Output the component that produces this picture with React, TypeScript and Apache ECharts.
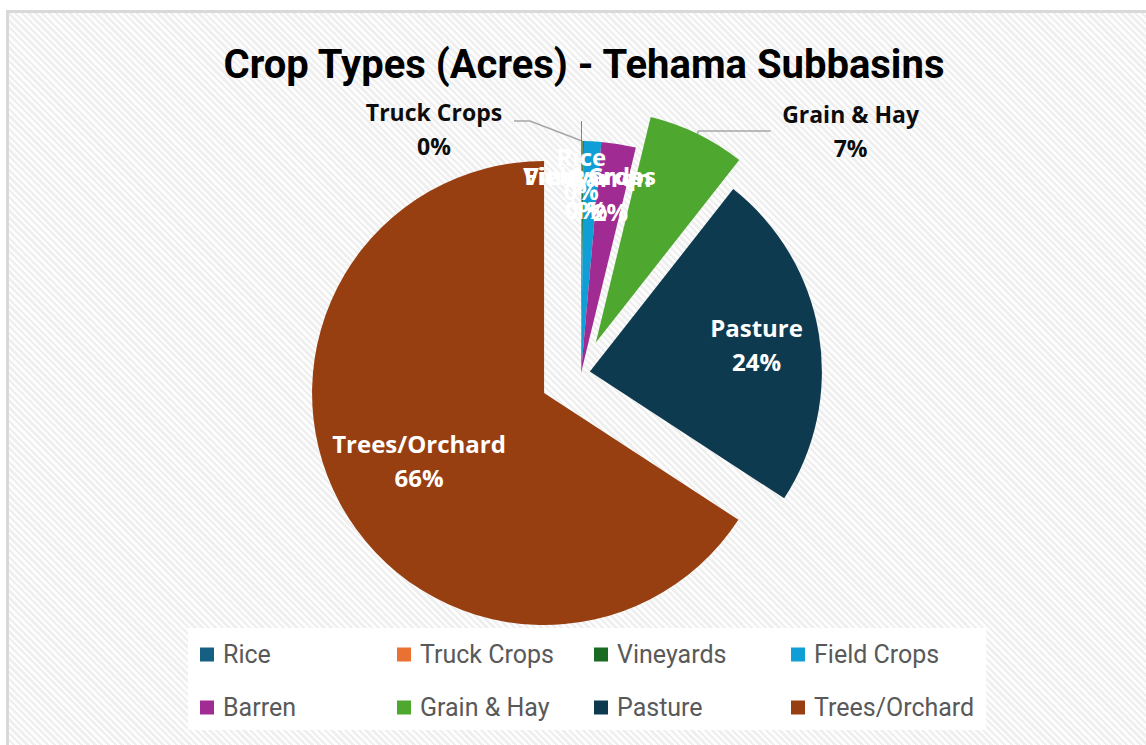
import React, { useEffect, useRef } from 'react';
import * as echarts from 'echarts';

const chartTitle = 'Crop Types (Acres) - Tehama Subbasins';
const categories = ['Rice', 'Truck Crops', 'Vineyards', 'Field Crops', 'Barren', 'Grain & Hay', 'Pasture', 'Trees/Orchard'];
const shares = [0.05, 0.05, 0.1, 1.2, 2.4, 6.8, 23.6, 65.8];
const sliceColors = ['#156082', '#E97132', '#196B24', '#0F9ED5', '#A02B93', '#4EA72E', '#0E3A4F', '#983F12'];
const explodeOffsets = [20, 0, 0, 0, 0, 34, 9, 42];
const labelModes = ['inside', 'outside', 'inside', 'inside', 'inside', 'outside', 'inside', 'inside'];
const labelRadiusFractions = [0.76, 0, 0.765, 0.765, 0.765, 0, 0.715, 0.6];

const PIE_CENTER = [581, 373];
const PIE_RADIUS = 232;
const LABEL_FONT = "'Open Sans', 'Noto Sans', sans-serif";
const LEGEND_FONT = "Roboto, 'Noto Sans', sans-serif";
const TITLE_FONT = "Roboto, sans-serif";
const CLEAR = 'rgba(0,0,0,0)';

function buildSeries() {
  const series: any[] = [];
  const offsets = Array.from(new Set(explodeOffsets));
  offsets.forEach((off) => {
    series.push({
      type: 'pie',
      name: 'slices-' + off,
      center: PIE_CENTER,
      radius: [0, PIE_RADIUS],
      startAngle: 90,
      clockwise: true,
      selectedMode: 'multiple',
      selectedOffset: off,
      percentPrecision: 0,
      avoidLabelOverlap: false,
      silent: true,
      emphasis: { disabled: true },
      itemStyle: { borderWidth: 0 },
      label: { show: false },
      labelLine: { show: false },
      data: categories.map((name, i) => {
        const mine = explodeOffsets[i] === off;
        const outside = mine && labelModes[i] === 'outside';
        return {
          name,
          value: shares[i],
          selected: mine && off > 0,
          itemStyle: { color: mine ? sliceColors[i] : CLEAR, borderWidth: 0 },
          label: outside
            ? {
                show: true,
                position: 'outside',
                opacity: 1,
                formatter: '{t|{b}}\n{t|{d}%}',
                rich: {
                  t: {
                    fontFamily: LABEL_FONT,
                    fontSize: 23,
                    fontWeight: 'bold',
                    color: '#0d0d0d',
                    lineHeight: 34,
                    width: 150,
                    align: 'center',
                  },
                },
              }
            : { show: false },
          labelLine: outside
            ? {
                show: true,
                length: name === 'Truck Crops' ? 20 : 3,
                length2: name === 'Truck Crops' ? 68 : 72,
                lineStyle: { color: '#a6a6a6', width: 1.5 },
              }
            : { show: false },
        };
      }),
      labelLayout: (params: any) => {
        if (categories[params.dataIndex] !== 'Truck Crops') return { hideOverlap: false };
        const pts = params.labelLinePoints;
        const rect = params.labelRect;
        if (!pts || !rect || pts.length < 3) return { hideOverlap: false };
        const p0 = pts[0];
        const p1 = pts[1];
        const p2 = pts[2];
        const mirror = (x: number) => 2 * p0[0] - x;
        return {
          hideOverlap: false,
          x: mirror(rect.x + rect.width),
          y: p1[1] + 8,
          align: 'left',
          labelLinePoints: [
            [p0[0], p0[1]],
            [mirror(p2[0]) + 16, p1[1]],
            [mirror(p2[0]), p2[1]],
          ],
        };
      },
    });
  });

  // invisible label carriers for the inside labels
  const combos: { off: number; frac: number }[] = [];
  categories.forEach((_, i) => {
    if (labelModes[i] !== 'inside') return;
    const off = explodeOffsets[i];
    const frac = labelRadiusFractions[i];
    if (!combos.some((c) => c.off === off && c.frac === frac)) combos.push({ off, frac });
  });
  combos.forEach(({ off, frac }) => {
    series.push({
      type: 'pie',
      name: 'labels-' + off + '-' + frac,
      center: PIE_CENTER,
      radius: [0, 2 * frac * PIE_RADIUS],
      startAngle: 90,
      clockwise: true,
      selectedMode: 'multiple',
      selectedOffset: off,
      percentPrecision: 0,
      avoidLabelOverlap: false,
      minShowLabelAngle: 0,
      silent: true,
      z: 3,
      emphasis: { disabled: true },
      labelLine: { show: false },
      labelLayout: { hideOverlap: false },
      label: {
        show: true,
        position: 'inside',
        opacity: 1,
        formatter: '{b}\n{d}%',
        fontFamily: LABEL_FONT,
        fontSize: 24,
        fontWeight: 'bold',
        color: '#ffffff',
        lineHeight: 34,
        textBorderWidth: 0,
        textBorderColor: CLEAR,
        overflow: 'none',
      },
      data: categories.map((name, i) => {
        const mine = labelModes[i] === 'inside' && explodeOffsets[i] === off && labelRadiusFractions[i] === frac;
        return {
          name,
          value: shares[i],
          selected: mine && off > 0,
          itemStyle: { color: CLEAR, borderWidth: 0 },
          label: { show: mine },
        };
      }),
    });
  });
  return series;
}

export default function App() {
  const ref = useRef<HTMLDivElement>(null);
  useEffect(() => {
    document.body.style.margin = '0';
    if (!ref.current) return;
    const chart = echarts.init(ref.current, undefined, { renderer: 'svg' });
    chart.setOption({
      animation: false,
      backgroundColor: 'transparent',
      title: {
        text: chartTitle,
        left: 584,
        top: 40,
        padding: 0,
        textAlign: 'center',
        textStyle: {
          fontFamily: TITLE_FONT,
          fontSize: 40,
          fontWeight: 'bold',
          color: '#000000',
          lineHeight: 48,
        },
      },
      legend: {
        data: categories.map((name, i) => ({
          name,
          icon: 'rect',
          itemStyle: { color: sliceColors[i], opacity: 1, borderWidth: 0 },
        })),
        selectedMode: false,
        orient: 'horizontal',
        left: 188,
        top: 628,
        width: 800,
        padding: [10, 12, 6, 12],
        backgroundColor: '#ffffff',
        itemWidth: 14,
        itemHeight: 14,
        itemGap: 20,
        textStyle: {
          fontFamily: LEGEND_FONT,
          fontSize: 25,
          color: '#595959',
          width: 154,
          lineHeight: 33,
          padding: [0, 0, 0, 4],
        },
      },
      series: buildSeries(),
    });
    return () => chart.dispose();
  }, []);

  return (
    <div style={{ position: 'relative', width: 1146, height: 745, overflow: 'hidden', background: '#ffffff' }}>
      <div
        style={{
          position: 'absolute',
          left: 6,
          top: 10,
          width: 1200,
          height: 800,
          border: '3px solid #d9d9d9',
          background:
            'repeating-linear-gradient(45deg, #fdfdfd 0px, #fdfdfd 2.4px, #efefef 2.4px, #efefef 4.8px)',
        }}
      />
      <div ref={ref} style={{ position: 'absolute', left: 0, top: 0, width: 1146, height: 745 }} />
    </div>
  );
}
